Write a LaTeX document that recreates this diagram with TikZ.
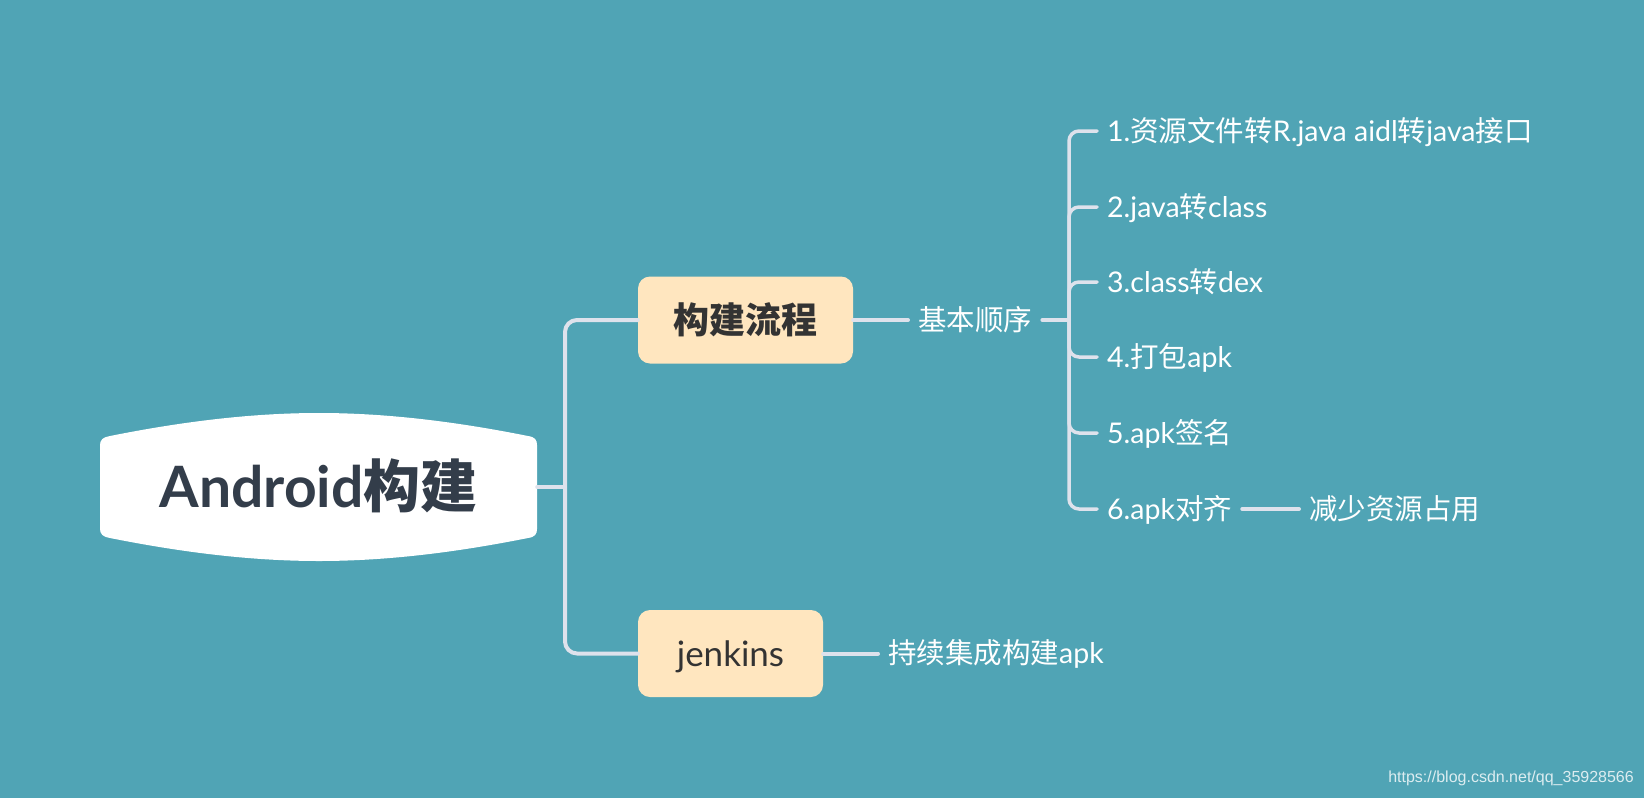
\documentclass[tikz,border=0pt]{standalone}
\usepackage{fontspec}
\setmainfont{Lato}
\newfontfamily\cjk{Noto Sans CJK SC}
\newfontfamily\wmfont{Liberation Sans}
\newcommand{\zh}[1]{{\cjk #1}}
\definecolor{bg}{RGB}{80,164,181}
\definecolor{linec}{RGB}{222,226,236}
\definecolor{peach}{RGB}{255,230,191}
\definecolor{rootdark}{RGB}{51,61,74}
\definecolor{topicdark}{RGB}{51,51,51}
\begin{document}
\begin{tikzpicture}[x=1pt,y=-1pt,
  conn/.style={draw=linec, line width=4pt, line cap=round},
  brk/.style={draw=linec, line width=3.5pt, line cap=round, rounded corners=10pt},
  topic/.style={fill=peach, rounded corners=12pt, text=topicdark, inner sep=0pt,
    minimum height=87pt, text depth=0pt},
  leaf/.style={text=white, anchor=west, inner xsep=10pt, inner ysep=0pt,
    font=\fontsize{28.5}{34}\selectfont, text height=20.5pt, text depth=0pt},
  roottext/.style={text=rootdark, inner sep=0pt, minimum width=437pt, minimum height=100pt,
    font=\fontsize{57}{66}\selectfont\bfseries, text height=41pt, text depth=0pt}
]
\fill[bg] (0,0) rectangle (1644,798);
\useasboundingbox (0,0) rectangle (1644,798);

% root shape
\fill[white] (100,445) .. controls (100,440) and (103,437) .. (110,436)
 .. controls (180,422) and (250,413) .. (319,413)
 .. controls (388,413) and (458,422) .. (528,436)
 .. controls (535,437) and (537,440) .. (537,445)
 -- (537,529)
 .. controls (537,534) and (535,537) .. (528,538)
 .. controls (458,552) and (388,561) .. (319,561)
 .. controls (250,561) and (180,552) .. (110,538)
 .. controls (103,537) and (100,534) .. (100,529) -- cycle;
\node[roottext] (root) at (318.5,487) {Android\zh{构建}};

% topics
\node[topic, minimum width=215pt, text height=27pt, font=\fontsize{36}{42}\selectfont\bfseries] (flow) at (745.5,320) {\zh{构建流程}};
\node[topic, minimum width=185pt, text height=25.2pt, font=\fontsize{35}{42}\selectfont] (jenkins) at (730.5,653.5) {jenkins};

% level 2
\node[leaf] (order) at (908,320) {\zh{基本顺序}};
\node[leaf] (ci) at (878,653.5) {\zh{持续集成构建}apk};

% level 3
\node[leaf] (s1) at (1097,131) {1.\zh{资源文件转}R.java aidl\zh{转}java\zh{接口}};
\node[leaf] (s2) at (1097,207) {2.java\zh{转}class};
\node[leaf] (s3) at (1097,282) {3.class\zh{转}dex};
\node[leaf] (s4) at (1097,357) {4.\zh{打包}apk};
\node[leaf] (s5) at (1097,433) {5.apk\zh{签名}};
\node[leaf] (s6) at (1097,509) {6.apk\zh{对齐}};
\node[leaf] (reduce) at (1299,509) {\zh{减少资源占用}};

% connectors
\coordinate (trunk) at (565,487);
\coordinate (br) at (1069,320);
\draw[conn] (root.east) -- (trunk);
\draw[conn, rounded corners=12pt] (flow.west) -| (trunk) |- (jenkins.west);
\draw[conn] (flow.east) -- (order.west);
\draw[conn] (order.east) -- (br);
\draw[conn] (jenkins.east) -- (ci.west);
\foreach \s in {s1,s2,s3,s4,s5,s6}{
  \draw[brk] (br) |- (\s.west);
}
\draw[conn] (s6.east) -- (reduce.west);

% watermark
\node[anchor=east, inner sep=0pt, text=white, opacity=0.8, font=\wmfont\fontsize{16}{19}\selectfont] (wm) at (1634,778) {https://blog.csdn.net/qq\_35928566};
\end{tikzpicture}
\end{document}
